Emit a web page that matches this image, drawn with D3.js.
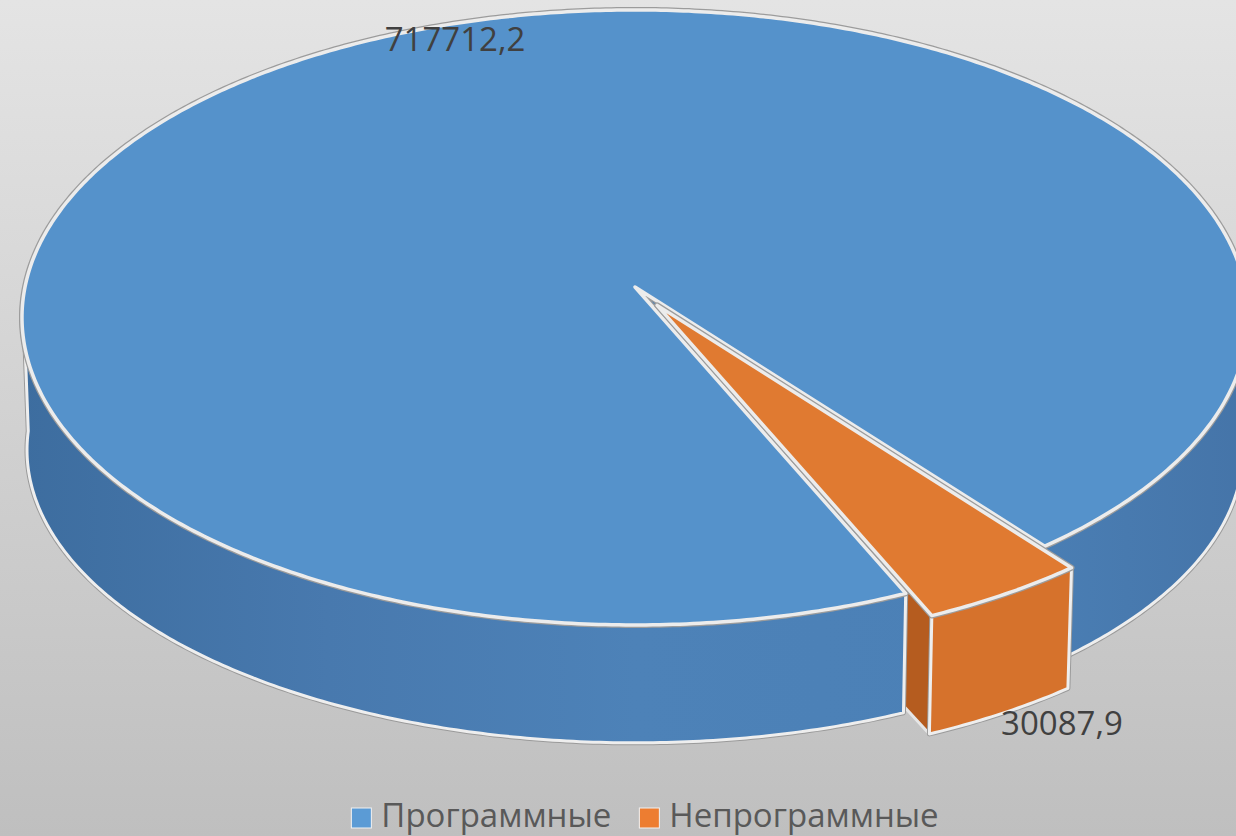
<!DOCTYPE html>
<html>
<head>
<meta charset="utf-8">
<script src="https://cdn.jsdelivr.net/npm/d3@7"></script>
<style>
  body { margin: 0; overflow: hidden; }
  svg { display: block; }
</style>
</head>
<body>
<div id="chart"></div>
<script>
var categories = ["Программные", "Непрограммные"],
    values = [717712.2, 30087.9],
    valueLabels = ["717712,2", "30087,9"];

var width = 1236,
    height = 836,
    cx = 635,
    startDeg = 156.2,
    explode = [0, 0.07],
    topColors = ["#5592cb", "#e07a31"],
    sideColors = ["url(#blueSide)", "#d6722c"],
    wallColors = ["#4b80b6", "#b55c1f"],
    legendColors = ["#5b9bd5", "#ed7d31"],
    labelPos = [[455, 51], [1062, 735]];

// perspective planes for top and bottom of the pie
var topPlane = {y0: 287, A: 610, B: 304.5, k: 0.099},
    botPlane = {y0: 421, A: 605, B: 290, k: 0.099};

function proj(p, u, v) {
  var w = 1 - p.k * v;
  return [cx + p.A * u / w, p.y0 + p.B * v / w];
}
function pt(p, a, r, off) {
  return proj(p, off[0] + r * Math.sin(a), off[1] - r * Math.cos(a));
}
function arcPts(p, a0, a1, off) {
  var n = Math.max(2, Math.ceil(Math.abs(a1 - a0) / 0.01));
  return d3.range(n + 1).map(function(i) { return pt(p, a0 + (a1 - a0) * i / n, 1, off); });
}
var line = d3.line();
function closed(points) { return line(points) + "Z"; }

var svg = d3.select("#chart").append("svg")
    .attr("width", width)
    .attr("height", height);

var defs = svg.append("defs");
var bg = defs.append("linearGradient").attr("id", "bg")
    .attr("x1", 0).attr("y1", 0).attr("x2", 0).attr("y2", 1);
bg.append("stop").attr("offset", "0%").attr("stop-color", "#e4e4e4");
bg.append("stop").attr("offset", "100%").attr("stop-color", "#bfbfbf");

var bs = defs.append("linearGradient").attr("id", "blueSide")
    .attr("gradientUnits", "userSpaceOnUse")
    .attr("x1", 20).attr("y1", 0).attr("x2", 1250).attr("y2", 0);
[["0", "#3d6d9f"], ["0.25", "#4879ae"], ["0.5", "#4d82b8"], ["0.8", "#4b80b6"], ["1", "#4574a8"]]
  .forEach(function(s) { bs.append("stop").attr("offset", s[0]).attr("stop-color", s[1]); });

svg.append("rect").attr("width", width).attr("height", height).attr("fill", "url(#bg)");

var pie = d3.pie().sort(null)
    .startAngle(startDeg * Math.PI / 180)
    .endAngle(startDeg * Math.PI / 180 + 2 * Math.PI);
var arcs = pie(values);

var vis0 = 92 * Math.PI / 180, vis1 = 268 * Math.PI / 180;
var g = svg.append("g");

function offsetOf(d, i) {
  var mid = (d.startAngle + d.endAngle) / 2;
  return [explode[i] * Math.sin(mid), -explode[i] * Math.cos(mid)];
}

// radial walls first: they sit behind the neighbouring slice bodies
arcs.forEach(function(d, i) {
  var off = offsetOf(d, i);
  [[d.startAngle, Math.sin(d.startAngle) < 0], [d.endAngle, Math.sin(d.endAngle) > 0]].forEach(function(w) {
    if (!w[1]) return;
    var a = w[0];
    var pts = [proj(topPlane, off[0], off[1]), pt(topPlane, a, 1, off),
               pt(botPlane, a, 1, off), proj(botPlane, off[0], off[1])];
    g.append("path").attr("d", closed(pts))
      .attr("fill", wallColors[i])
      .attr("stroke", "#e6e6e6").attr("stroke-width", 3).attr("stroke-linejoin", "round");
  });
});

arcs.forEach(function(d, i) {
  var off = offsetOf(d, i),
      sg = g.append("g").attr("class", "slice");

  // outer side wall, only where it faces the viewer
  for (var n = -1; n <= 2; n++) {
    var lo = Math.max(d.startAngle, vis0 + 2 * Math.PI * n),
        hi = Math.min(d.endAngle, vis1 + 2 * Math.PI * n);
    if (hi <= lo) continue;
    var pts = arcPts(topPlane, lo, hi, off).concat(arcPts(botPlane, hi, lo, off));
    sg.append("path").attr("d", closed(pts))
      .attr("fill", sideColors[i])
      .attr("stroke", "#9a9a9a").attr("stroke-width", 5).attr("stroke-linejoin", "round");
    sg.append("path").attr("d", closed(pts))
      .attr("fill", sideColors[i])
      .attr("stroke", "#eeeeee").attr("stroke-width", 3).attr("stroke-linejoin", "round");
  }

  // top face
  var top = [proj(topPlane, off[0], off[1])].concat(arcPts(topPlane, d.startAngle, d.endAngle, off));
  sg.append("path").attr("d", closed(top))
    .attr("fill", topColors[i])
    .attr("stroke", "#9c9c9c").attr("stroke-width", 6).attr("stroke-linejoin", "round");
  sg.append("path").attr("d", closed(top))
    .attr("fill", topColors[i])
    .attr("stroke", "#ececec").attr("stroke-width", 3.5).attr("stroke-linejoin", "round");
});

// data labels
svg.selectAll(".value-label").data(valueLabels).enter()
  .append("text")
  .attr("class", "value-label")
  .attr("x", function(d, i) { return labelPos[i][0]; })
  .attr("y", function(d, i) { return labelPos[i][1]; })
  .attr("text-anchor", "middle")
  .attr("font-family", "Open Sans, sans-serif")
  .attr("font-size", 33)
  .attr("fill", "#404040")
  .text(function(d) { return d; });

// legend
var legend = svg.append("g").attr("class", "legend");
var items = legend.selectAll("g").data(categories).enter().append("g");
items.append("rect")
  .attr("width", 20).attr("height", 20)
  .attr("y", 808)
  .attr("fill", function(d, i) { return legendColors[i]; })
  .attr("stroke", "#f2f2f2").attr("stroke-width", 1);
items.append("text")
  .attr("x", 30).attr("y", 827)
  .attr("font-family", "Open Sans, sans-serif")
  .attr("font-size", 33)
  .attr("fill", "#595959")
  .text(function(d) { return d; });

var xpos = 0, gap = 28, positions = [];
items.each(function() {
  positions.push(xpos);
  xpos += 30 + this.querySelector("text").getComputedTextLength() + gap;
});
var total = xpos - gap, x0 = 645 - total / 2;
items.attr("transform", function(d, i) { return "translate(" + (x0 + positions[i]) + ",0)"; });
</script>
</body>
</html>
